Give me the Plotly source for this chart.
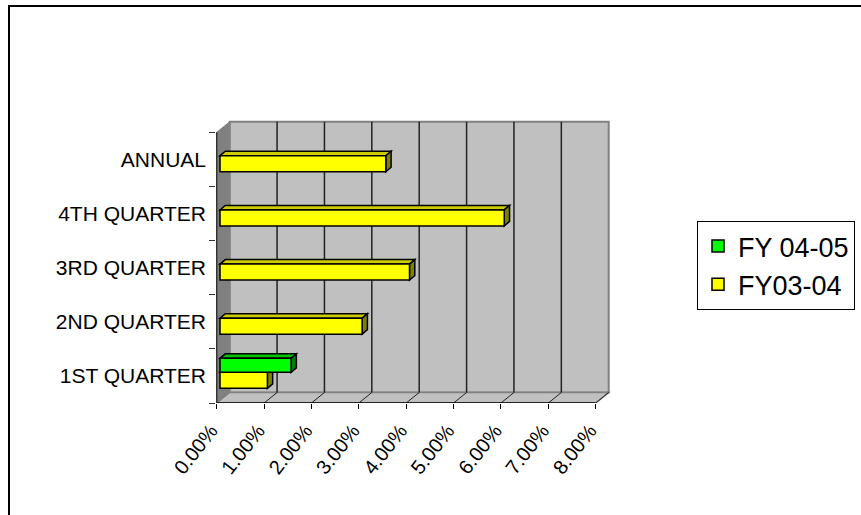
import plotly.graph_objects as go

# ---- data -------------------------------------------------------------
categories = ["1ST QUARTER", "2ND QUARTER", "3RD QUARTER", "4TH QUARTER", "ANNUAL"]
fy0304 = [1.0, 3.0, 4.0, 6.0, 3.5]          # percent
fy0405 = [1.5, None, None, None, None]      # percent
x_ticks = [0, 1, 2, 3, 4, 5, 6, 7, 8]
x_tick_labels = [f"{v:.2f}%" for v in x_ticks]

# ---- geometry of the pseudo-3D box -------------------------------------
W_FIG, H_FIG = 861, 515
M_L, M_R, M_T, M_B = 216, 249, 119, 112
PLOT_W = W_FIG - M_L - M_R
PLOT_H = H_FIG - M_T - M_B
PX_PER_X = 47.375
PX_PER_Y = 54.14
X0 = -0.7 / PX_PER_X
X1 = X0 + PLOT_W / PX_PER_X
Y0 = -0.5
Y1 = Y0 + PLOT_H / PX_PER_Y


def dx(px):
    return px / PX_PER_X


def dy(px):
    return px / PX_PER_Y


WALL_DX, WALL_DY = dx(13), dy(10.5)      # depth of the walls
BAR_DX, BAR_DY = dx(5.3), dy(4.5)        # depth of each bar
BAR_BASE = dx(3.3)                       # bars sit slightly behind the front plane
X_MAX = x_ticks[-1]
N = len(categories)
y_pos = list(range(N))

series = [
    # name, values, front, top, side, offset, width
    ("FY03-04", fy0304, "#FFFF00", "#CCCC00", "#808000", -0.229, 0.295),
    ("FY 04-05", fy0405, "#00FF00", "#00C000", "#008000", 0.066, 0.259),
]

fig = go.Figure()


def poly(pts):
    return "M " + " L ".join(f"{x},{y}" for x, y in pts) + " Z"


shapes = []
# outer frame
shapes.append(dict(type="rect", xref="paper", yref="paper",
                   x0=(9 - M_L) / PLOT_W, x1=(880 - M_L) / PLOT_W,
                   y0=(H_FIG - M_B - 540) / PLOT_H, y1=(H_FIG - M_B - 6) / PLOT_H,
                   line=dict(color="#000000", width=2), fillcolor="rgba(0,0,0,0)",
                   layer="below"))
# back wall
shapes.append(dict(type="path", xref="x", yref="y", layer="below",
                   path=poly([(WALL_DX, Y0 + WALL_DY), (X_MAX + WALL_DX, Y0 + WALL_DY),
                              (X_MAX + WALL_DX, N - 0.5 + WALL_DY), (WALL_DX, N - 0.5 + WALL_DY)]),
                   fillcolor="#C0C0C0", line=dict(color="#808080", width=2)))
# left wall
shapes.append(dict(type="path", xref="x", yref="y", layer="below",
                   path=poly([(0, Y0), (0, N - 0.5), (WALL_DX, N - 0.5 + WALL_DY), (WALL_DX, Y0 + WALL_DY)]),
                   fillcolor="#808080", line=dict(color="#808080", width=1)))
# floor
shapes.append(dict(type="path", xref="x", yref="y", layer="below",
                   path=poly([(0, Y0), (X_MAX, Y0), (X_MAX + WALL_DX, Y0 + WALL_DY), (WALL_DX, Y0 + WALL_DY)]),
                   fillcolor="#C0C0C0", line=dict(color="#808080", width=1.5)))
# gridlines on the back wall and the floor
for k in x_ticks[1:-1]:
    shapes.append(dict(type="line", xref="x", yref="y", layer="below",
                       x0=k + WALL_DX, x1=k + WALL_DX, y0=Y0 + WALL_DY, y1=N - 0.5 + WALL_DY,
                       line=dict(color="#222222", width=1.5)))
for k in x_ticks[1:]:
    shapes.append(dict(type="line", xref="x", yref="y", layer="below",
                       x0=k, x1=k + WALL_DX, y0=Y0, y1=Y0 + WALL_DY,
                       line=dict(color="#222222", width=1)))

# top and side faces of each bar
for name, vals, front, top, side, off, wid in series:
    for yi, v in zip(y_pos, vals):
        if v is None:
            continue
        yb, yt = yi + off, yi + off + wid
        xe = BAR_BASE + v
        shapes.append(dict(type="path", xref="x", yref="y", layer="below",
                           path=poly([(BAR_BASE, yt), (xe, yt), (xe + BAR_DX, yt + BAR_DY),
                                      (BAR_BASE + BAR_DX, yt + BAR_DY)]),
                           fillcolor=top, line=dict(color="#000000", width=1.5)))
        shapes.append(dict(type="path", xref="x", yref="y", layer="below",
                           path=poly([(xe, yb), (xe + BAR_DX, yb + BAR_DY),
                                      (xe + BAR_DX, yt + BAR_DY), (xe, yt)]),
                           fillcolor=side, line=dict(color="#000000", width=1.5)))

# front axis lines
shapes.append(dict(type="line", xref="x", yref="y", layer="above",
                   x0=0, x1=X_MAX, y0=Y0, y1=Y0, line=dict(color="#000000", width=1.5)))
shapes.append(dict(type="line", xref="x", yref="y", layer="above",
                   x0=0, x1=0, y0=Y0, y1=N - 0.5, line=dict(color="#333333", width=1.5)))

# front faces of the bars
for rank, (name, vals, front, top, side, off, wid) in enumerate(series):
    fig.add_trace(go.Bar(
        name=name, orientation="h", y=y_pos, x=vals,
        base=BAR_BASE, offset=off, width=wid,
        marker=dict(color=front, line=dict(color="#000000", width=1.5)),
        legendrank=2 - rank, legendgroup=name,
    ))

fig.update_layout(
    width=W_FIG, height=H_FIG,
    margin=dict(l=M_L, r=M_R, t=M_T, b=M_B, autoexpand=False),
    paper_bgcolor="white", plot_bgcolor="white",
    font=dict(family="Liberation Sans, Arial, sans-serif", color="#000000"),
    barmode="overlay",
    shapes=shapes,
    showlegend=True,
    legend=dict(x=(697 - M_L) / PLOT_W, y=(H_FIG - M_B - 221) / PLOT_H,
                xanchor="left", yanchor="top",
                bordercolor="#000000", borderwidth=1, bgcolor="white",
                font=dict(size=27), tracegroupgap=0, itemwidth=30),
    xaxis=dict(range=[X0, X1], tickvals=x_ticks, ticktext=x_tick_labels,
               tickangle=-52, ticks="outside", ticklen=5, tickcolor="#000000",
               ticklabelshift=-6, ticklabelstandoff=2,
               showgrid=False, zeroline=False, showline=False, automargin=False,
               tickfont=dict(size=20), fixedrange=True),
    yaxis=dict(range=[Y0, Y1], tickvals=y_pos, ticktext=categories, ticks="",
               showgrid=False, zeroline=False, showline=False, automargin=False,
               tickfont=dict(size=21), ticklabelstandoff=9,
               minor=dict(tickvals=[i - 0.5 for i in range(N + 1)], ticks="outside",
                          ticklen=6, tickcolor="#333333", showgrid=False),
               fixedrange=True),
)

fig.write_html("out.html")
